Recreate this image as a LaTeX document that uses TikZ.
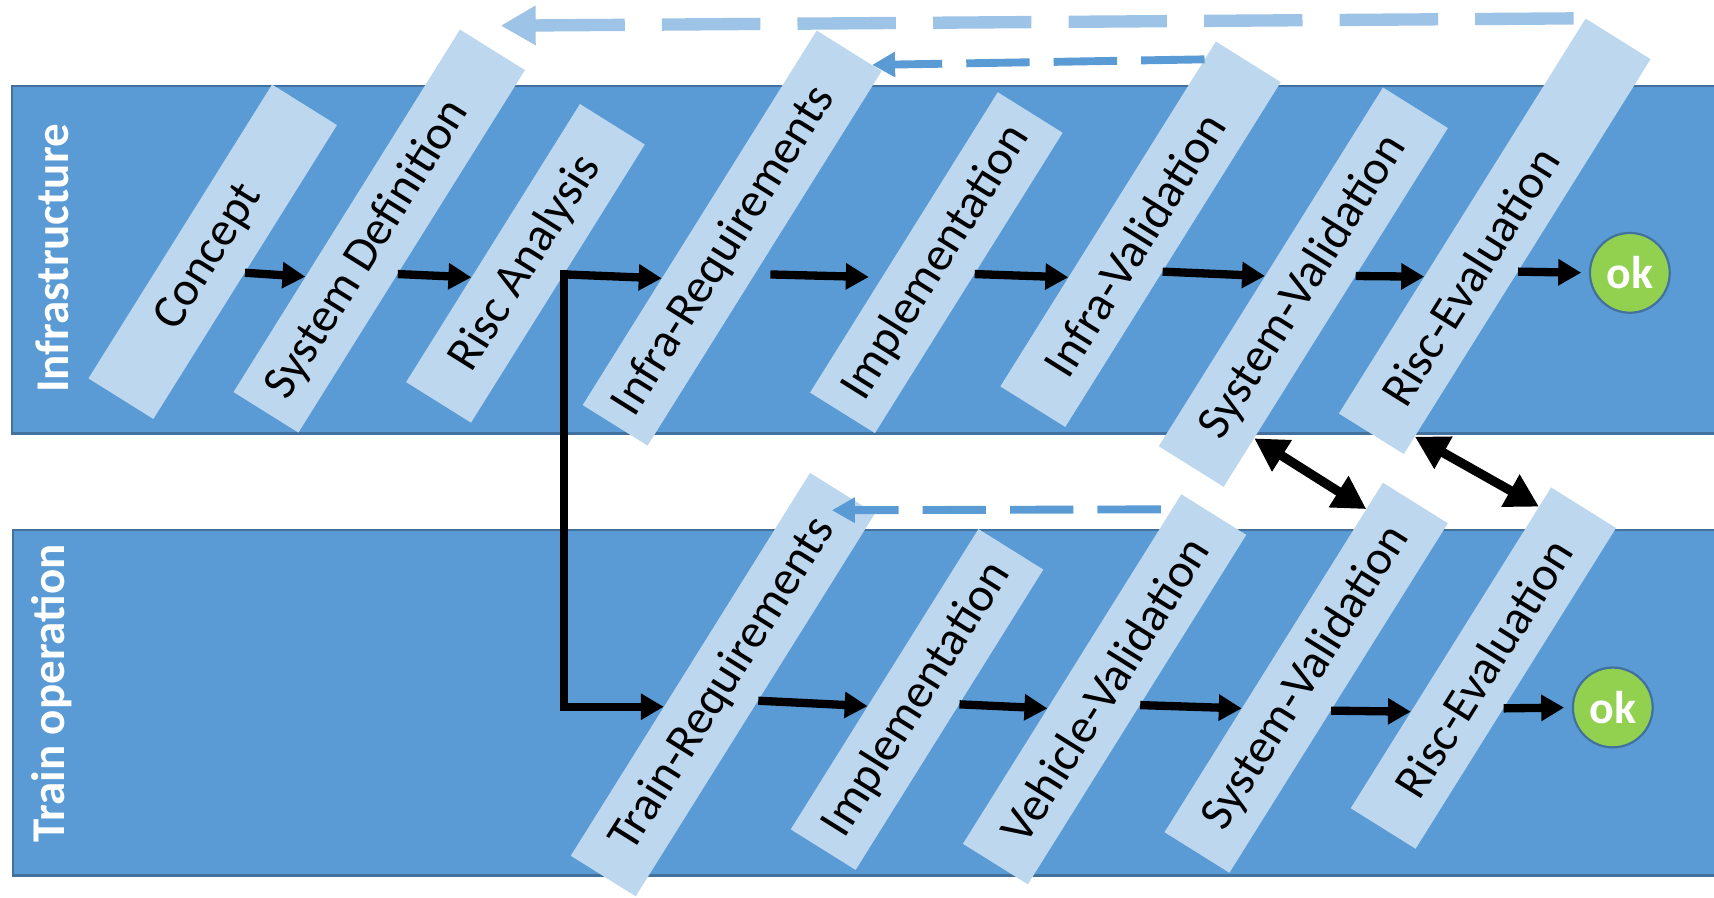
\documentclass[tikz,border=0pt]{standalone}
\usepackage{fontspec}
\setmainfont{Carlito}
\usetikzlibrary{arrows.meta,calc}

\definecolor{lane}{HTML}{5B9BD5}
\definecolor{laneedge}{HTML}{41719C}
\definecolor{stepfill}{HTML}{BDD7EE}
\definecolor{loopfar}{HTML}{9DC3E6}
\definecolor{loopnear}{HTML}{5B9BD5}
\definecolor{okfill}{HTML}{92D050}

% arrow from the right long edge of #2 (at height #4) to the left long edge of #3 (at height #5)
\newcommand\stepflow[5][flow]{%
  \draw[#1] (intersection cs:first line={(#2.south west)--(#2.south east)},second line={(0,#4)--(10,#4)})
    -- (intersection cs:first line={(#3.north west)--(#3.north east)},second line={(0,#5)--(10,#5)});}

\begin{document}
\begin{tikzpicture}[x=1pt,y=-1pt,
  lanebox/.style={fill=lane,draw=laneedge,line width=2pt,anchor=north west,inner sep=0pt},
  lanelabel/.style={rotate=90,text=white,font=\fontsize{43}{50}\selectfont\bfseries},
  stepbox/.style={fill=stepfill,rotate=58,minimum height=70pt,inner sep=0pt,
    font=\fontsize{44}{50}\selectfont},
  okdot/.style={circle,minimum size=73pt,inner sep=0pt,fill=okfill,draw=laneedge,line width=2pt,
    text=white,font=\fontsize{42}{44}\selectfont\bfseries},
  flow/.style={line width=7.6pt,-{Triangle[length=21pt,width=23pt]}},
  link/.style={line width=8.5pt,{Triangle[length=30pt,width=32pt]}-{Triangle[length=30pt,width=32pt]}},
  loopback/.style={draw=loopfar,line width=11.3pt,dash pattern=on 90pt off 34pt,
    -{Triangle[length=32pt,width=34pt]}},
  feedback/.style={draw=loopnear,line width=7.2pt,dash pattern=on 58pt off 22pt,
    -{Triangle[length=21pt,width=22pt]}},
]
\useasboundingbox (0,0) rectangle (1568,821);

% swim lanes
\node[lanebox,minimum width=1570pt,minimum height=317.7pt] (infra) at (10,77.8) {};
\node[lanebox,minimum width=1570pt,minimum height=316pt] (train) at (11,484) {};
\node[lanelabel] (infralabel) at (48,236.4) {Infrastructure};
\node[lanelabel] (trainlabel) at (47.3,634.3) {Train operation};

% infrastructure steps
\node[stepbox,minimum width=317pt] (concept) at (194.6,230.3) {Concept\kern12pt};
\node[stepbox,minimum width=391pt] (sysdef) at (346.9,211.4) {System Definition\kern40pt};
\node[stepbox,minimum width=300pt] (risc) at (480.7,240.9) {Risc Analysis};
\node[stepbox,minimum width=404pt] (ireq) at (669.8,217.8) {Infra-Requirements\kern28pt};
\node[stepbox,minimum width=324pt] (implT) at (856.6,240.3) {Implementation};
\node[stepbox,minimum width=372pt] (ival) at (1043.4,214.3) {Infra-Validation\kern22pt};
\node[stepbox,minimum width=387pt] (svalT) at (1192.3,262.7) {System-Validation};
\node[stepbox,minimum width=426pt] (revalT) at (1367.4,216.2) {Risc-Evaluation\kern86pt};
\node[okdot] (okT) at (1491,249.6) {ok};

% train operation steps
\node[stepbox,minimum width=413pt] (treq) at (661.3,626.3) {Train-Requirements};
\node[stepbox,minimum width=324pt] (implB) at (838.9,639.9) {Implementation};
\node[stepbox,minimum width=377pt] (vval) at (1010.5,630.6) {Vehicle-Validation};
\node[stepbox,minimum width=377pt] (svalB) at (1194.9,620) {System-Validation};
\node[stepbox,minimum width=346pt] (revalB) at (1357,611.2) {Risc-Evaluation};
\node[okdot] (okB) at (1475.4,647.2) {ok};

% main flow, infrastructure
\stepflow{concept}{sysdef}{249.5}{253.1}
\stepflow{sysdef}{risc}{250.7}{253.7}
\stepflow[flow,shorten <=14pt,shorten >=12pt]{ireq}{implT}{250.7}{253.7}
\stepflow{implT}{ival}{250.7}{253.7}
\stepflow{ival}{svalT}{248.5}{252.5}
\stepflow{svalT}{revalT}{252.5}{253.1}
\draw[flow,shorten >=7pt] (intersection cs:first line={(revalT.south west)--(revalT.south east)},second line={(0,248.5)--(10,248.5)}) -- (okT.west);

% split after the risc analysis
\coordinate (split) at (intersection cs:first line={(risc.south west)--(risc.south east)},second line={(0,251)--(10,251)});
\draw[flow] (split) -- (intersection cs:first line={(ireq.north west)--(ireq.north east)},second line={(0,254.6)--(10,254.6)});
\draw[flow,line cap=rect] (split) |- (intersection cs:first line={(treq.north west)--(treq.north east)},second line={(0,646.5)--(10,646.5)});

% main flow, train operation
\stepflow{treq}{implB}{641}{645.9}
\stepflow{implB}{vval}{644.3}{648}
\stepflow{vval}{svalB}{645}{648}
\stepflow{svalB}{revalB}{650.1}{651}
\draw[flow,shorten >=7pt] (intersection cs:first line={(revalB.south west)--(revalB.south east)},second line={(0,648)--(10,648)}) -- (okB.west);

% coupling between the lanes
\draw[link] (intersection cs:first line={(svalT.south west)--(svalT.south east)},second line={(0,401)--(10,401)})
  -- (intersection cs:first line={(svalB.north west)--(svalB.north east)},second line={(0,465.7)--(10,465.7)});
\draw[link] (intersection cs:first line={(revalT.south west)--(revalT.south east)},second line={(0,399.5)--(10,399.5)})
  -- (intersection cs:first line={(revalB.north west)--(revalB.north east)},second line={(0,463.5)--(10,463.5)});

% iteration loops
\coordinate (loopend) at (458,23.5);
\draw[loopback,shorten <=11pt] (revalT.north east) -- (loopend);
\draw[feedback] (intersection cs:first line={(ival.north west)--(ival.north east)},second line={(0,54.3)--(10,54.3)})
  -- ($(ireq.east)!0.7!(ireq.south east)$);
\draw[feedback,shorten <=10pt] (intersection cs:first line={(vval.north west)--(vval.north east)},second line={(0,465.9)--(10,465.9)})
  -- ($(treq.center)!0.91!(treq.east)$);
\end{tikzpicture}
\end{document}
